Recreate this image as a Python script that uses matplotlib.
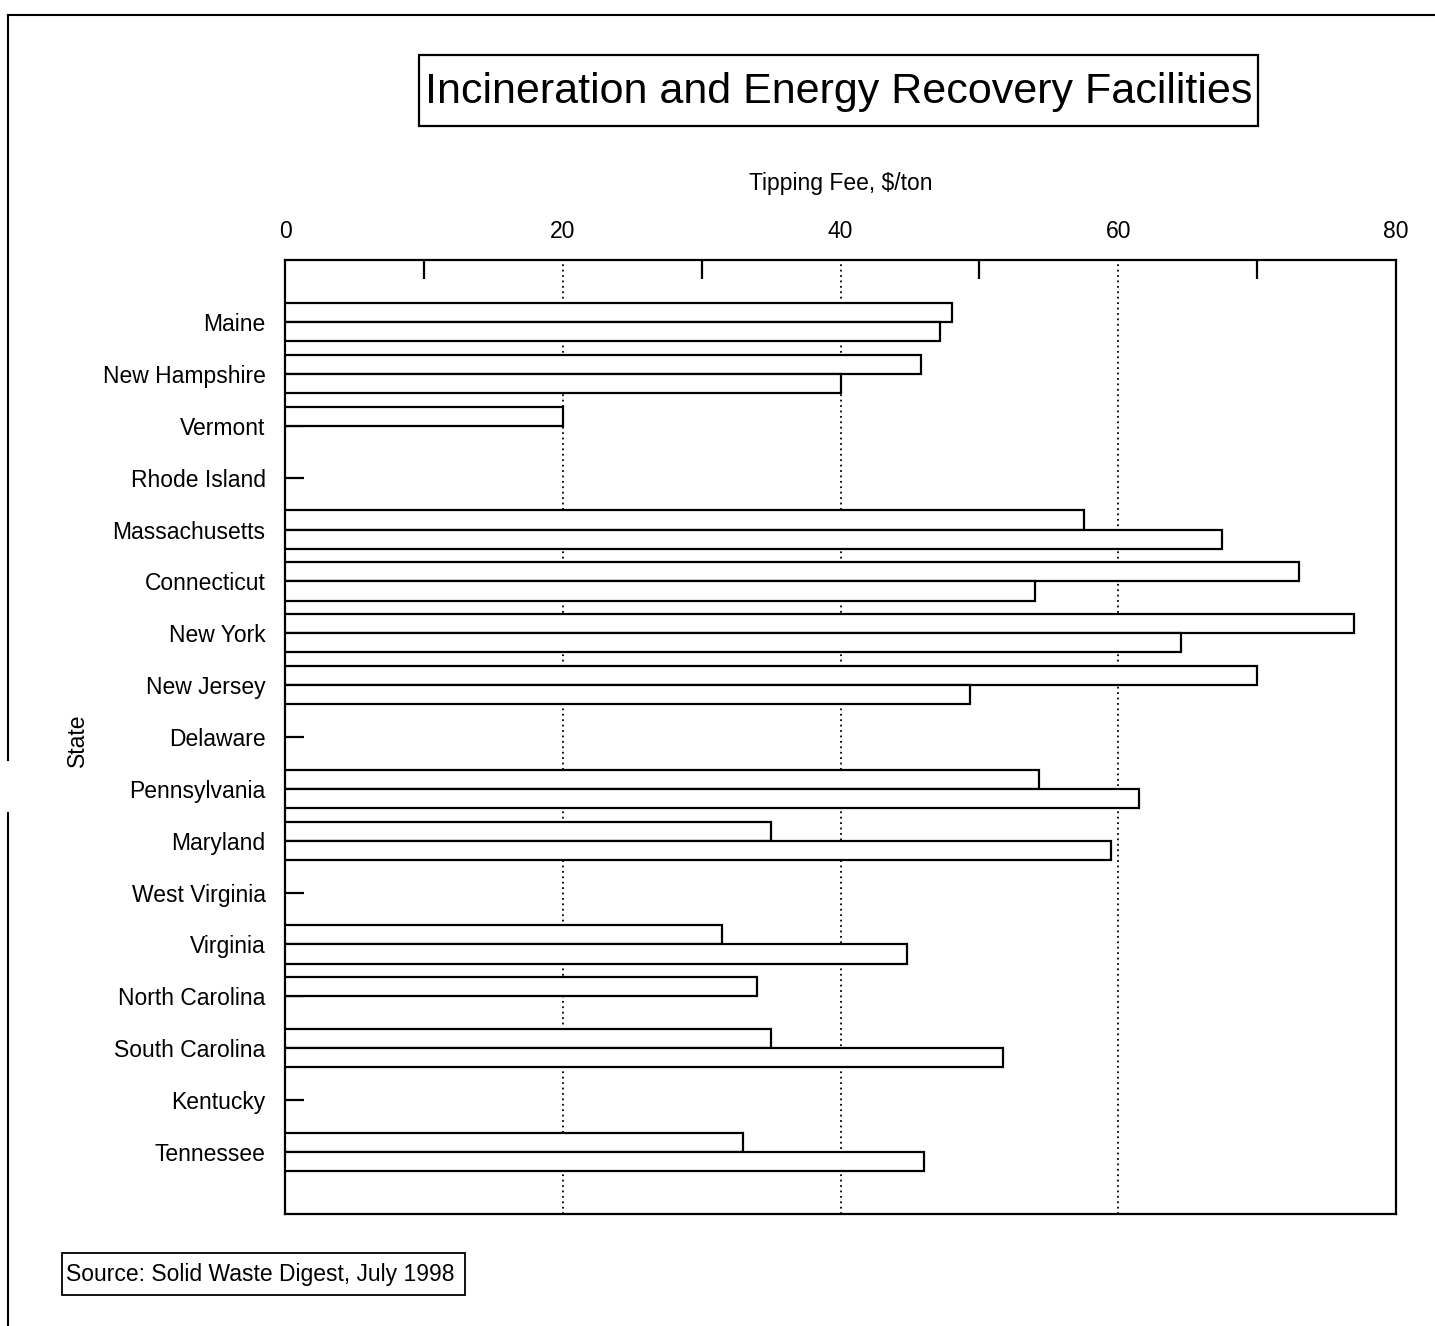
'''
Tipping fees at incineration and energy recovery facilities, by state
'''
import numpy as np
import matplotlib
matplotlib.use('Agg')
import matplotlib.pyplot as plt
from matplotlib.lines import Line2D
from matplotlib.patches import Rectangle

nan = np.nan
states = ['Maine', 'New Hampshire', 'Vermont', 'Rhode Island', 'Massachusetts',
          'Connecticut', 'New York', 'New Jersey', 'Delaware', 'Pennsylvania',
          'Maryland', 'West Virginia', 'Virginia', 'North Carolina',
          'South Carolina', 'Kentucky', 'Tennessee']
# fee ($/ton) of the first and second facility listed for each state, nan = none
fee_a = [48, 45.8, 20, nan, 57.5, 73, 77, 70, nan, 54.3, 35, nan, 31.5, 34, 35, nan, 33]
fee_b = [47.2, 40, nan, nan, 67.5, 54, 64.5, 49.3, nan, 61.5, 59.5, nan, 44.8, nan, 51.7, nan, 46]
major_ticks = [0, 20, 40, 60, 80]
minor_ticks = [10, 30, 50, 70]

W, H = 1435, 1326


def fig_box(fig, x0, y0, x1, y1, lw):
    # rectangle given in pixel coords measured from the top left
    fig.add_artist(Rectangle((x0 / W, 1 - y1 / H), (x1 - x0) / W, (y1 - y0) / H,
                             transform=fig.transFigure, fill=False,
                             ec='black', lw=lw))


def main():
    plt.rcParams['font.family'] = ['Liberation Sans', 'DejaVu Sans']

    fig = plt.figure(figsize=(W / 100, H / 100), dpi=100)
    ax = fig.add_axes([285 / W, 1 - 1214 / H, (1396 - 285) / W, (1214 - 260) / H])

    ypos = np.arange(len(states))
    h = 0.37
    for vals, off in ((fee_a, -h / 2), (fee_b, h / 2)):
        v = np.array(vals, dtype=float)
        m = ~np.isnan(v)
        ax.barh(ypos[m] + off, v[m], height=h, color='white',
                edgecolor='black', linewidth=1.6, zorder=3)

    ax.set_xlim(0, 80)
    ax.set_ylim(len(states) - 1 + 1.2, -1.2)

    ax.xaxis.tick_top()
    ax.xaxis.set_label_position('top')
    ax.set_xticks(major_ticks)
    ax.set_xticks(minor_ticks, minor=True)
    ax.tick_params(axis='x', which='major', length=0, pad=12, labelsize=16.5)
    ax.tick_params(axis='x', which='minor', direction='in', length=14,
                   width=1.6, top=True, bottom=False)
    ax.grid(axis='x', which='major', linestyle=(0, (1, 2)), color='black',
            lw=1.3, zorder=1)
    ax.set_xlabel('Tipping Fee, $/ton', fontsize=16.5, labelpad=22)

    ax.set_yticks(ypos, states)
    ax.tick_params(axis='y', direction='in', length=14, width=1.6, pad=14,
                   labelsize=16.5)
    for s in ax.spines.values():
        s.set_linewidth(1.6)

    fig.text(77 / W, 1 - 740 / H, 'State', rotation=90, ha='center',
             va='center', fontsize=16.5)

    fig.text(839 / W, 1 - 92 / H, 'Incineration and Energy Recovery Facilities',
             ha='center', va='center', fontsize=31)
    fig_box(fig, 419, 55, 1258, 126, 1.6)

    fig.text(66 / W, 1 - 1275 / H, 'Source: Solid Waste Digest, July 1998',
             ha='left', va='center', fontsize=16.5)
    fig_box(fig, 62, 1253, 465, 1295, 1.3)

    # page frame from the scan
    fig.add_artist(Line2D([8 / W, 1], [1 - 15 / H] * 2, transform=fig.transFigure,
                          color='black', lw=1.5))
    fig.add_artist(Line2D([8 / W] * 2, [1 - 15 / H, 1 - 760 / H],
                          transform=fig.transFigure, color='black', lw=1.5))
    fig.add_artist(Line2D([8 / W] * 2, [1 - 813 / H, 0],
                          transform=fig.transFigure, color='black', lw=1.5))

    fig.savefig('out.png', dpi=100)


if __name__ == '__main__':
    main()
